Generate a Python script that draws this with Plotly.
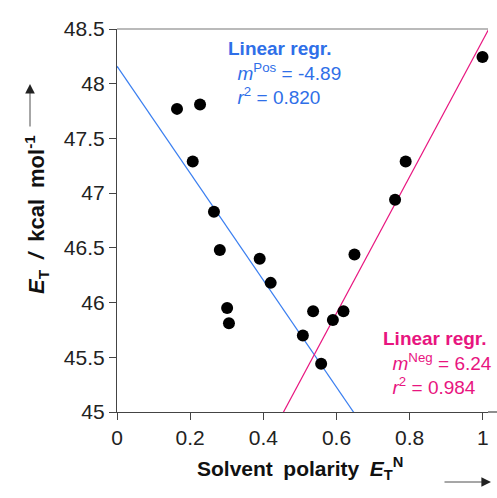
import plotly.graph_objects as go

# Data
polarity = [0.164, 0.227, 0.207, 0.265, 0.281, 0.301, 0.306, 0.390, 0.420,
            0.508, 0.536, 0.558, 0.590, 0.619, 0.649, 0.760, 0.789, 0.999]
energy = [47.77, 47.81, 47.29, 46.83, 46.48, 45.95, 45.81, 46.40, 46.18,
          45.70, 45.92, 45.44, 45.84, 45.92, 46.44, 46.94, 47.29, 48.245]

pos_fit_x = [0.0, 1.02]
pos_intercept, pos_slope = 48.16, -4.89
neg_fit_x = [0.0, 1.02]
neg_intercept, neg_slope = 42.16, 6.24

x_ticks = [0, 0.2, 0.4, 0.6, 0.8, 1]
y_ticks = [45, 45.5, 46, 46.5, 47, 47.5, 48, 48.5]

BLUE = "#2f6fe8"
PINK = "#e8157f"
FONT = "Liberation Sans, Arial, sans-serif"

fig = go.Figure()
fig.add_trace(go.Scatter(x=pos_fit_x, y=[pos_intercept + pos_slope * v for v in pos_fit_x],
                         mode="lines", line=dict(color="#3b7ff0", width=1.2), showlegend=False))
fig.add_trace(go.Scatter(x=neg_fit_x, y=[neg_intercept + neg_slope * v for v in neg_fit_x],
                         mode="lines", line=dict(color=PINK, width=1.2), showlegend=False))
fig.add_trace(go.Scatter(x=polarity, y=energy, mode="markers",
                         marker=dict(color="black", size=12), showlegend=False, cliponaxis=False))

fig.update_layout(
    width=497, height=498,
    margin=dict(l=117, r=9, t=29, b=86),
    paper_bgcolor="white", plot_bgcolor="white",
    font=dict(family=FONT, color="#222", size=21),
    xaxis=dict(range=[0, 1.014], tickvals=x_ticks, ticktext=[str(v) for v in x_ticks],
               ticks="outside", ticklen=7, tickcolor="#444", showgrid=False, zeroline=False,
               showline=True, linecolor="#444", linewidth=1.2, mirror=False,
               tickfont=dict(size=21, family=FONT, color="#222")),
    yaxis=dict(range=[45, 48.5], tickvals=y_ticks, ticktext=[f"{v:g}" for v in y_ticks],
               ticks="outside", ticklen=7, tickcolor="#444", showgrid=False, zeroline=False,
               showline=True, linecolor="#444", linewidth=1.2,
               tickfont=dict(size=21, family=FONT, color="#222")),
    shapes=[
        dict(type="line", xref="paper", yref="paper", x0=0, x1=1, y0=1, y1=1,
             line=dict(color="#777", width=1.2)),
        dict(type="line", xref="paper", yref="paper", x0=1, x1=1.03, y0=0, y1=0,
             line=dict(color="#444", width=1.2)),
    ],
    annotations=[
        dict(xref="paper", yref="paper", x=(226 - 117) / 371, y=(412 - 36) / 383,
             xanchor="left", yanchor="top", align="left", showarrow=False,
             font=dict(color=BLUE, size=19, family=FONT),
             text="<b>Linear regr.</b><br>\u2002<i>m</i><sup>Pos</sup> = -4.89<br>\u2002<i>r</i><sup>2</sup> = 0.820"),
        dict(xref="paper", yref="paper", x=(381 - 117) / 371, y=(412 - 326) / 383,
             xanchor="left", yanchor="top", align="left", showarrow=False,
             font=dict(color=PINK, size=19, family=FONT),
             text="<b>Linear regr.</b><br>\u2002<i>m</i><sup>Neg</sup> = 6.24<br>\u2002<i>r</i><sup>2</sup> = 0.984"),
        dict(xref="paper", yref="paper", x=(300 - 117) / 371, y=-(468 - 412) / 383,
             xanchor="center", yanchor="middle", showarrow=False,
             font=dict(color="#111", size=21, family=FONT),
             text="<b>Solvent\u2002polarity\u2002<i>E</i><sub>T</sub><sup>N</sup></b>"),
        dict(xref="paper", yref="paper", x=-(117 - 36) / 371, y=(412 - 215) / 383,
             xanchor="center", yanchor="middle", showarrow=False, textangle=-90,
             font=dict(color="#111", size=22, family=FONT),
             text="<b><i>E</i><sub>T</sub>\u2002<i>/</i>\u2002kcal\u2002mol<sup>-1</sup></b>"),
        # x arrow
        dict(xref="paper", yref="paper", x=(491 - 117) / 371, y=-(482 - 412) / 383,
             ax=-48, ay=0, text="", showarrow=True, arrowhead=2, arrowsize=2.4,
             arrowwidth=0.8, arrowcolor="#222"),
        # y arrow
        dict(xref="paper", yref="paper", x=-(117 - 30) / 371, y=(412 - 84) / 383,
             ax=0, ay=44, text="", showarrow=True, arrowhead=2, arrowsize=2.4,
             arrowwidth=0.8, arrowcolor="#222"),
    ],
)

fig.write_html("out.html")
